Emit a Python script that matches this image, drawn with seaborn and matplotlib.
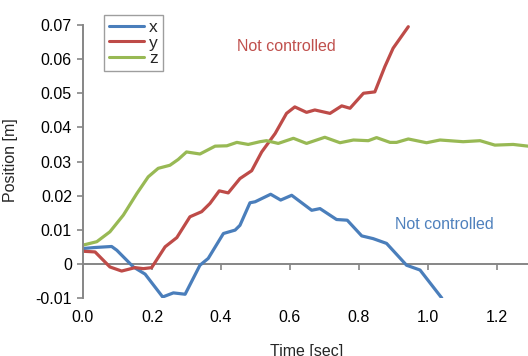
import matplotlib
matplotlib.use("Agg")
import matplotlib.pyplot as plt
import seaborn as sns
import pandas as pd

# Position of the end effector along each axis over time
t_x = [0.0, 0.035, 0.083, 0.098, 0.146, 0.18, 0.231, 0.262, 0.296, 0.339, 0.363,
       0.407, 0.441, 0.455, 0.484, 0.499, 0.544, 0.573, 0.605, 0.663, 0.687, 0.735,
       0.766, 0.808, 0.841, 0.880, 0.938, 0.977, 1.04]
pos_x = [0.0045, 0.0048, 0.0051, 0.004, -0.0009, -0.003, -0.0097, -0.0085, -0.0089,
         -0.0004, 0.0016, 0.0089, 0.0099, 0.0113, 0.0179, 0.0182, 0.0204, 0.0187,
         0.0201, 0.0157, 0.0162, 0.0130, 0.0128, 0.0082, 0.0074, 0.0060, -0.0004,
         -0.0018, -0.0100]

t_y = [0.0, 0.035, 0.078, 0.112, 0.151, 0.175, 0.199, 0.238, 0.272, 0.31, 0.344,
       0.368, 0.395, 0.421, 0.455, 0.489, 0.518, 0.557, 0.590, 0.614, 0.648, 0.672,
       0.716, 0.750, 0.774, 0.813, 0.846, 0.875, 0.899, 0.943]
pos_y = [0.0037, 0.0035, -0.0009, -0.0021, -0.0011, -0.0014, -0.0011, 0.005, 0.0077,
         0.0138, 0.0153, 0.0177, 0.0214, 0.0208, 0.025, 0.0273, 0.0328, 0.0382,
         0.0441, 0.046, 0.0444, 0.0451, 0.0441, 0.0463, 0.0456, 0.05, 0.0504, 0.0578,
         0.0632, 0.0695]

t_z = [0.0, 0.04, 0.078, 0.117, 0.156, 0.189, 0.218, 0.252, 0.276, 0.30, 0.339,
       0.383, 0.417, 0.446, 0.479, 0.513, 0.532, 0.566, 0.610, 0.648, 0.701, 0.745,
       0.784, 0.827, 0.851, 0.890, 0.909, 0.943, 0.996, 1.035, 1.102, 1.151, 1.194,
       1.247, 1.29]
pos_z = [0.0055, 0.0065, 0.0094, 0.0143, 0.0206, 0.0255, 0.028, 0.0289, 0.0306,
         0.0328, 0.0322, 0.0345, 0.0346, 0.0356, 0.035, 0.0358, 0.0361, 0.0353,
         0.0368, 0.0353, 0.0371, 0.0355, 0.0363, 0.0361, 0.037, 0.0356, 0.0356,
         0.0366, 0.0355, 0.0363, 0.0358, 0.0361, 0.0348, 0.035, 0.0345]

series_names = ["x", "y", "z"]
x_ticks = [0.0, 0.2, 0.4, 0.6, 0.8, 1.0, 1.2]
x_tick_labels = ["0.0", "0.2", "0.4", "0.6", "0.8", "1.0", "1.2"]
y_ticks = [-0.01, 0.0, 0.01, 0.02, 0.03, 0.04, 0.05, 0.06, 0.07]
y_tick_labels = ["-0.01", "0", "0.01", "0.02", "0.03", "0.04", "0.05", "0.06", "0.07"]

df = pd.concat([
    pd.DataFrame({"time": t_x, "pos": pos_x, "axis": "x"}),
    pd.DataFrame({"time": t_y, "pos": pos_y, "axis": "y"}),
    pd.DataFrame({"time": t_z, "pos": pos_z, "axis": "z"}),
], ignore_index=True)

sns.set_style("white")
plt.rcParams["font.family"] = ["Liberation Sans", "DejaVu Sans"]
FS = 11.5
plt.rcParams["font.size"] = FS

palette = {"x": "#4a7ebb", "y": "#be4b48", "z": "#98b954"}
gray = "#868686"

fig = plt.figure(figsize=(5.28, 3.56), dpi=100)
ax = fig.add_axes([83 / 528, 1 - 298 / 356, 445 / 528, 273 / 356])

sns.lineplot(data=df, x="time", y="pos", hue="axis", hue_order=series_names,
             palette=palette, estimator=None, sort=False, linewidth=2.3,
             ax=ax, legend=False)
for ln in ax.get_lines():
    ln.set_solid_joinstyle("round")
    ln.set_solid_capstyle("round")

ax.set_xlim(0.0, 1.29)
ax.set_ylim(-0.01, 0.07)
ax.set_xticks(x_ticks)
ax.set_xticklabels(x_tick_labels)
ax.set_yticks(y_ticks)
ax.set_yticklabels(y_tick_labels)

for side in ["top", "right", "bottom"]:
    ax.spines[side].set_visible(False)
ax.spines["left"].set_color(gray)
ax.spines["left"].set_linewidth(1.4)
ax.tick_params(axis="y", direction="out", length=4, width=1.2, color=gray,
               pad=4, labelsize=FS, labelcolor="black", left=True)
ax.tick_params(axis="x", length=0, pad=9, labelsize=FS, labelcolor="black")

# Horizontal axis crossing at zero, with downward tick marks
zero_axis = ax.secondary_xaxis(0.125)
zero_axis.set_xticks(x_ticks)
zero_axis.spines["bottom"].set_color(gray)
zero_axis.spines["bottom"].set_linewidth(1.4)
zero_axis.tick_params(axis="x", direction="out", length=4, width=1.2, color=gray,
                      labelbottom=False)

ax.set_xlabel("Time [sec]", fontsize=FS)
ax.xaxis.set_label_coords(0.503, -0.17)
ax.set_ylabel("Position [m]", fontsize=FS)
ax.yaxis.set_label_coords(-0.146, 0.505)

ax.text(0.59, 0.0638, "Not controlled", color="#c0504d", fontsize=FS,
        ha="center", va="center")
ax.text(1.048, 0.0116, "Not controlled", color="#4f81bd", fontsize=FS,
        ha="center", va="center")

handles = [plt.Line2D([], [], color=palette[n], lw=2.2) for n in series_names]
leg = fig.legend(handles, series_names, loc="upper left",
                 bbox_to_anchor=(104 / 528, 1 - 15 / 356), borderaxespad=0,
                 frameon=True, fancybox=False, fontsize=12.5, handlelength=2.0,
                 handletextpad=0.3, labelspacing=0.0, borderpad=0.3)
leg.get_frame().set_edgecolor(gray)
leg.get_frame().set_linewidth(1.0)

fig.savefig("out.png", dpi=100)
